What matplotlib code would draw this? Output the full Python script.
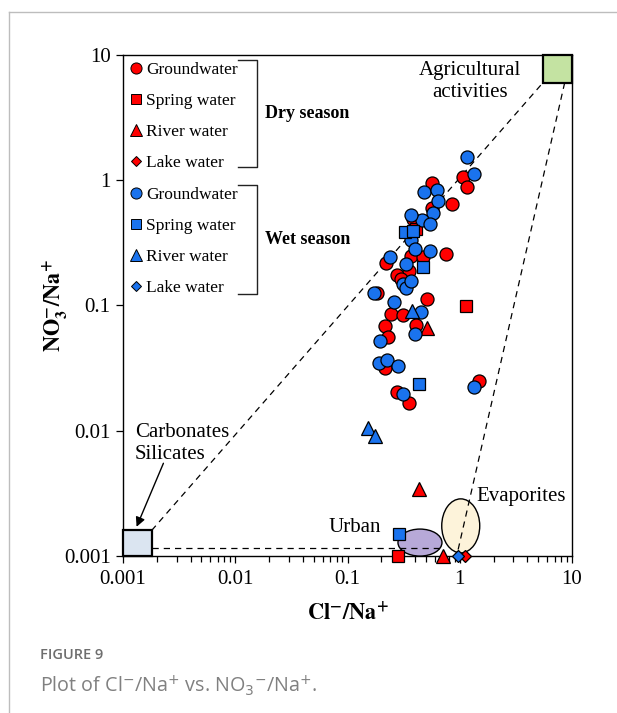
import matplotlib
matplotlib.use('Agg')
import matplotlib.pyplot as plt
from matplotlib.lines import Line2D
from matplotlib.patches import Rectangle, Ellipse
from matplotlib.transforms import ScaledTranslation
from matplotlib.ticker import FixedLocator, LogLocator, NullFormatter, FuncFormatter

plt.rcParams['font.family'] = ['Liberation Serif', 'DejaVu Serif']
plt.rcParams['mathtext.fontset'] = 'stix'

# ---------------- data ----------------
# Dry season
dry_gw_x = [1.06, 1.16, 0.56, 0.86, 0.56, 0.38, 0.37, 0.75, 0.47, 0.22, 0.35, 0.277, 0.30,
            0.184, 0.51, 0.242, 0.31, 0.215, 0.41, 0.23, 0.215, 1.48, 0.274, 0.35]
dry_gw_y = [1.07, 0.88, 0.95, 0.645, 0.60, 0.49, 0.25, 0.256, 0.245, 0.22, 0.19, 0.175, 0.162,
            0.125, 0.113, 0.0855, 0.084, 0.0685, 0.07, 0.0557, 0.0318, 0.0251, 0.0205, 0.0168]
dry_sp_x = [0.41, 1.13, 0.279]
dry_sp_y = [0.41, 0.099, 0.001]
dry_rv_x = [0.51, 0.435, 0.71]
dry_rv_y = [0.0658, 0.00341, 0.001]
dry_lk_x = [1.11]
dry_lk_y = [0.001]

# Wet season
wet_gw_x = [1.15, 1.34, 0.48, 0.63, 0.64, 0.58, 0.46, 0.54, 0.365, 0.365, 0.40, 0.54, 0.239,
            0.33, 0.31, 0.33, 0.365, 0.172, 0.259, 0.45, 0.194, 0.40, 0.191, 0.223, 0.279,
            1.34, 0.31]
wet_gw_y = [1.52, 1.12, 0.80, 0.83, 0.68, 0.55, 0.48, 0.445, 0.53, 0.333, 0.28, 0.27, 0.245,
            0.214, 0.149, 0.137, 0.158, 0.126, 0.106, 0.089, 0.0524, 0.0589, 0.0346, 0.0367,
            0.0329, 0.0225, 0.0196]
wet_sp_x = [0.324, 0.38, 0.467, 0.433, 0.288]
wet_sp_y = [0.388, 0.395, 0.204, 0.0235, 0.0015]
wet_rv_x = [0.372, 0.152, 0.175]
wet_rv_y = [0.0908, 0.0105, 0.0091]
wet_lk_x = [0.955]
wet_lk_y = [0.001]

legend_labels = ['Groundwater', 'Spring water', 'River water', 'Lake water']
season_labels = ['Dry season', 'Wet season']
tick_vals = [0.001, 0.01, 0.1, 1, 10]

RED = '#ff0000'
BLUE = '#1a73ee'

# ---------------- figure ----------------
fig = plt.figure(figsize=(6.17, 7.13), dpi=100)
ax = fig.add_axes([0.1994, 0.2202, 0.7277, 0.7027])
ax.set_xscale('log')
ax.set_yscale('log')
ax.set_xlim(0.001, 10)
ax.set_ylim(0.001, 10)

# end-member boxes
ax.add_patch(Rectangle((0.001, 0.001), 0.0008, 0.0006, facecolor='#dbe5f1',
                       edgecolor='black', lw=1.6, zorder=3, clip_on=False))
ax.add_patch(Rectangle((5.5, 6.0), 4.5, 4.0, facecolor='#c4e3a2',
                       edgecolor='black', lw=1.6, zorder=3, clip_on=False))

# ellipses (size in inches, centred at data points)
def add_ellipse(cx, cy, w, h, fc):
    e = Ellipse((0, 0), w, h, facecolor=fc, edgecolor='black', lw=1.0, zorder=3,
                transform=fig.dpi_scale_trans + ScaledTranslation(cx, cy, ax.transData))
    ax.add_patch(e)

add_ellipse(0.442, 0.00128, 0.44, 0.27, '#b7a9d8')
add_ellipse(1.02, 0.00174, 0.38, 0.54, '#fdf3da')

# dashed mixing lines
dash = dict(color='black', lw=0.9, dashes=(5, 4), zorder=4)
ax.plot([0.0018, 5.5], [0.0016, 6.0], **dash)
ax.plot([8.6, 0.95], [6.0, 0.00105], **dash)
ax.plot([0.0018, 0.69], [0.00116, 0.00116], **dash)

# markers
mk = dict(ls='none', mec='black', mew=0.9, zorder=5, clip_on=False)
ax.plot(dry_gw_x, dry_gw_y, marker='o', ms=9.4, mfc=RED, **mk)
ax.plot(dry_sp_x, dry_sp_y, marker='s', ms=9.0, mfc=RED, **mk)
ax.plot(dry_rv_x, dry_rv_y, marker='^', ms=10, mfc=RED, **mk)
ax.plot(dry_lk_x, dry_lk_y, marker='D', ms=6.5, mfc=RED, **mk)
ax.plot(wet_gw_x, wet_gw_y, marker='o', ms=9.4, mfc=BLUE, **mk)
ax.plot(wet_sp_x, wet_sp_y, marker='s', ms=9.0, mfc=BLUE, **mk)
ax.plot(wet_rv_x, wet_rv_y, marker='^', ms=10, mfc=BLUE, **mk)
ax.plot(wet_lk_x, wet_lk_y, marker='D', ms=6.5, mfc=BLUE, **mk)

# annotations
tfs = 15
ax.text(1.23, 6.1, 'Agricultural\nactivities', ha='center', va='center',
        fontsize=tfs, linespacing=1.22, zorder=6)
ax.text(0.00128, 0.0079, 'Carbonates\nSilicates', ha='left', va='center',
        fontsize=tfs, linespacing=1.2, zorder=6)
ax.text(1.42, 0.00297, 'Evaporites', ha='left', va='center', fontsize=tfs, zorder=6)
ax.text(0.2, 0.0017, 'Urban', ha='right', va='center', fontsize=tfs, zorder=6)
ax.annotate('', xy=(0.00132, 0.00171), xytext=(0.00229, 0.0055),
            arrowprops=dict(arrowstyle='-|>', color='black', lw=1.0,
                            mutation_scale=14, shrinkA=0, shrinkB=0), zorder=6)

# legend
def h(marker, color, ms):
    return Line2D([], [], ls='none', marker=marker, mfc=color, mec='black',
                  mew=0.7, ms=ms)
handles = [h('o', RED, 8), h('s', RED, 7.5), h('^', RED, 8), h('D', RED, 5.5),
           h('o', BLUE, 8), h('s', BLUE, 7.5), h('^', BLUE, 8), h('D', BLUE, 5.5)]
leg = ax.legend(handles, legend_labels * 2, loc='upper left',
                bbox_to_anchor=(0.017, 0.987), frameon=False, borderpad=0,
                borderaxespad=0, handlelength=0.6, handletextpad=0.3,
                labelspacing=0.87, fontsize=12.5)
leg.set_zorder(7)

# brackets
br = dict(color='#222222', lw=1.0, transform=ax.transAxes, clip_on=False, zorder=7)
for (top, bot) in [(0.990, 0.776), (0.741, 0.523)]:
    ax.plot([0.256, 0.298, 0.298, 0.256], [top, top, bot, bot], **br)
ax.text(0.316, 0.883, season_labels[0], transform=ax.transAxes, fontsize=13,
        fontweight='bold', va='center', ha='left')
ax.text(0.316, 0.632, season_labels[1], transform=ax.transAxes, fontsize=13,
        fontweight='bold', va='center', ha='left')

# axes styling
ax.xaxis.set_major_locator(FixedLocator(tick_vals))
ax.yaxis.set_major_locator(FixedLocator(tick_vals))
fmt = FuncFormatter(lambda v, p: '%g' % v)
ax.xaxis.set_major_formatter(fmt)
ax.yaxis.set_major_formatter(fmt)
ax.xaxis.set_minor_locator(LogLocator(base=10, subs=range(2, 10), numticks=20))
ax.xaxis.set_minor_formatter(NullFormatter())
ax.yaxis.set_minor_locator(FixedLocator([]))
ax.tick_params(which='both', direction='out', top=False, right=False,
               labelsize=15, width=0.9)
ax.tick_params(which='major', length=5)
ax.tick_params(which='minor', length=4)
ax.tick_params(axis='x', pad=5)
ax.tick_params(axis='y', pad=4)
for s in ax.spines.values():
    s.set_linewidth(1.0)

ax.set_xlabel(r'$\mathbf{Cl^{-}/Na^{+}}$', fontsize=16, labelpad=9)
ax.set_ylabel(r'$\mathbf{NO_3^{-}/Na^{+}}$', fontsize=16, labelpad=-5)

# outer frame lines and caption
fig.add_artist(Line2D([9 / 617, 1], [1 - 12 / 713, 1 - 12 / 713], color='#bdbdbd', lw=1.0))
fig.add_artist(Line2D([9 / 617, 9 / 617], [0, 1 - 12 / 713], color='#bdbdbd', lw=1.0))
fig.text(40 / 617, 1 - 655 / 713, 'FIGURE 9', fontsize=10.5, color='#6e6e6e',
         family=['Open Sans', 'DejaVu Sans'], fontweight='semibold', va='center')
fig.text(40 / 617, 1 - 686 / 713,
         r'Plot of Cl$^{-}$/Na$^{+}$ vs. NO$_{3}$$^{-}$/Na$^{+}$.',
         fontsize=14.2, color='#808080', family=['Open Sans', 'DejaVu Sans'],
         math_fontfamily='dejavusans', va='center')

fig.savefig('out.png', dpi=100)
